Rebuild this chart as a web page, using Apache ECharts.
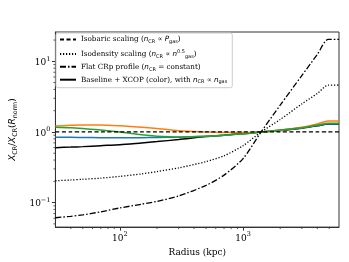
<!DOCTYPE html>
<html><head><meta charset="utf-8">
<script src="https://cdn.jsdelivr.net/npm/echarts@6/dist/echarts.min.js"></script>
<style>html,body{margin:0;padding:0;background:#fff}#c{width:349px;height:262px}</style>
</head><body><div id="c"></div>
<script>
// ---- data ----
var radius =      [30,   40,   50,   70,   100,  150,  200,  300,  500,  700,  1000, 1400, 2000, 3000, 4000, 4900, 6000];
var isobaric =    [1,    1,    1,    1,    1,    1,    1,    1,    1,    1,    1,    1,    1,    1,    1,    1,    1];
var isodensity =  [0.204,0.209,0.214,0.222,0.235,0.255,0.275,0.31, 0.38, 0.46, 0.64, 1.0,  1.5,  2.5,  3.5,  4.6,  4.6];
var flatCRp =     [0.061,0.064,0.067,0.074,0.084,0.095,0.104,0.124,0.175,0.245,0.42, 1.0,  2.4,  6.3,  12.5, 20.4, 20.4];
var baseline =    [0.60, 0.61, 0.62, 0.64, 0.66, 0.70, 0.73, 0.78, 0.86, 0.90, 0.95, 1.0,  1.05, 1.13, 1.22, 1.30, 1.30];
var xcopBlue =    [0.84, 0.84, 0.835,0.83, 0.83, 0.83, 0.835,0.845,0.87, 0.90, 0.94, 1.0,  1.06, 1.14, 1.23, 1.31, 1.31];
var xcopOrange =  [1.21, 1.24, 1.25, 1.25, 1.22, 1.17, 1.12, 1.04, 1.0,  0.98, 0.98, 1.0,  1.06, 1.17, 1.30, 1.43, 1.43];
var xcopGreen =   [1.17, 1.15, 1.12, 1.07, 1.0,  0.91, 0.87, 0.85, 0.87, 0.90, 0.94, 1.0,  1.07, 1.15, 1.25, 1.33, 1.33];
var xMinorTicks = [40,50,60,70,80,90,200,300,400,500,600,700,800,900,2000,3000,4000,5000];
var yMinorTicks = [0.05,0.06,0.07,0.08,0.09,0.2,0.3,0.4,0.5,0.6,0.7,0.8,0.9,2,3,4,5,6,7,8,9,20];
var xMin = 30, xMax = 6000, yMin = 0.045, yMax = 26;

var legendNames = ['iso', 'dens', 'flat', 'base'];
var legendText = {
  iso: 'Isobaric scaling ({i|n}{sub|CR}{t| ∝ }{i|P}{sub|gas}{t|)}',
  dens: 'Isodensity scaling ({i|n}{sub|CR}{t| ∝ }{i|n}{sup|0.5}{sub|gas}{t|)}',
  flat: 'Flat CRp profile ({i|n}{sub|CR}{t| = constant)}',
  base: 'Baseline + XCOP (color), with {i|n}{sub|CR}{t| ∝ }{i|n}{sub|gas}'
};

function zip(ys){ return radius.map(function(r,i){ return [r, ys[i]]; }); }

var SERIF = 'DejaVu Serif';
var chart = echarts.init(document.getElementById('c'), null, {renderer:'canvas'});

function lineSeries(name, ys, color, type, width, z){
  return {
    name: name, type: 'line', data: zip(ys), showSymbol: false, symbol: 'none',
    smooth: 0.25, z: z, animation: false,
    lineStyle: { color: color, width: width, type: type },
    itemStyle: { color: color }
  };
}

function pow10Label(v){
  var e = Math.round(Math.log10(v));
  if (Math.abs(Math.log10(v) - e) > 1e-6) return '';
  return '{b|10}{s|' + (e < 0 ? '−' + (-e) : e) + '}';
}

var labelRich = {
  b: { fontFamily: SERIF, fontSize: 9, color: '#000', lineHeight: 12, verticalAlign: 'bottom' },
  s: { fontFamily: SERIF, fontSize: 6.5, color: '#000', lineHeight: 12, verticalAlign: 'top' }
};

var subRich = {
  t: { fontFamily: SERIF, fontSize: 7.2, color: '#000', lineHeight: 10 },
  i: { fontFamily: 'DejaVu Sans', fontStyle: 'italic', fontSize: 7.2, color: '#000', lineHeight: 10 },
  sub: { fontFamily: 'DejaVu Sans', fontSize: 5, color: '#000', lineHeight: 7, verticalAlign: 'bottom' },
  sup: { fontFamily: 'DejaVu Sans', fontSize: 5, color: '#000', lineHeight: 7, verticalAlign: 'top' }
};

var option = {
  backgroundColor: '#fff',
  animation: false,
  grid: { left: 52, right: 10, top: 32, bottom: 33, show: true, borderColor: '#333', borderWidth: 1, containLabel: false },
  legend: {
    data: legendNames, left: 56, top: 33, orient: 'vertical',
    itemWidth: 16, itemHeight: 8, itemGap: 4.4, padding: [3, 5, 3, 3],
    backgroundColor: 'rgba(255,255,255,0.85)', borderColor: '#ccc', borderWidth: 1, borderRadius: 2,
    itemStyle: { color: 'rgba(0,0,0,0)', borderColor: 'rgba(0,0,0,0)', borderWidth: 0, opacity: 0 },
    textStyle: { fontFamily: SERIF, fontSize: 7.2, color: '#000', rich: subRich },
    formatter: function(n){ return legendText[n]; },
    selectedMode: false
  },
  xAxis: {
    type: 'log', logBase: 10, min: xMin, max: xMax,
    name: 'Radius (kpc)', nameLocation: 'middle', nameGap: 16,
    nameTextStyle: { fontFamily: SERIF, fontSize: 9, color: '#000' },
    axisLine: { show: true, onZero: false, lineStyle: { color: '#333', width: 1 } },
    axisTick: { show: true, inside: false, length: 3.5, lineStyle: { color: '#333' } },
    splitLine: { show: false },
    axisLabel: { margin: 4, formatter: pow10Label, rich: labelRich, showMinLabel: false, showMaxLabel: false }
  },
  yAxis: {
    type: 'log', logBase: 10, min: yMin, max: yMax,
    name: '{i|X}{sub|CR}{t|/}{i|X}{sub|CR}{t|(}{i|R}{sub|norm}{t|)}',
    nameLocation: 'middle', nameGap: 30, nameRotate: 90,
    nameTextStyle: { fontSize: 9, color: '#000', rich: {
      t: { fontFamily: 'DejaVu Sans', fontSize: 9, color: '#000', lineHeight: 12 },
      i: { fontFamily: 'DejaVu Sans', fontStyle: 'italic', fontSize: 9, color: '#000', lineHeight: 12 },
      sub: { fontFamily: 'DejaVu Sans', fontSize: 6.3, color: '#000', lineHeight: 8, verticalAlign: 'bottom' }
    } },
    axisLine: { show: true, onZero: false, lineStyle: { color: '#333', width: 1 } },
    axisTick: { show: true, inside: false, length: 3.5, lineStyle: { color: '#333' } },
    splitLine: { show: false },
    axisLabel: { margin: 5, formatter: pow10Label, rich: labelRich, showMinLabel: false, showMaxLabel: false }
  },
  series: [
    lineSeries('base', baseline, '#000', 'solid', 1.5, 2),
    lineSeries('blue', xcopBlue, '#1f77b4', 'solid', 1.5, 3),
    lineSeries('orange', xcopOrange, '#ff7f0e', 'solid', 1.5, 4),
    lineSeries('green', xcopGreen, '#2ca02c', 'solid', 1.5, 5),
    lineSeries('iso', isobaric, '#000', [4, 2.5], 1.3, 6),
    lineSeries('dens', isodensity, '#000', [1.2, 1.8], 1.3, 7),
    lineSeries('flat', flatCRp, '#000', [6, 2, 1.5, 2], 1.3, 8),
    {
      type: 'custom', name: 'xminor', silent: true, clip: false, z: 10,
      data: xMinorTicks.map(function(v){ return [v]; }),
      renderItem: function(params, api){
        var p = api.coord([api.value(0), yMin]);
        return { type: 'line', shape: { x1: p[0], y1: p[1], x2: p[0], y2: p[1] + 2 }, style: { stroke: '#333', lineWidth: 0.8 } };
      }
    },
    {
      type: 'custom', name: 'yminor', silent: true, clip: false, z: 10,
      data: yMinorTicks.map(function(v){ return [xMin, v]; }),
      renderItem: function(params, api){
        var p = api.coord([xMin, api.value(1)]);
        return { type: 'line', shape: { x1: p[0], y1: p[1], x2: p[0] - 2, y2: p[1] }, style: { stroke: '#333', lineWidth: 0.8 } };
      }
    }
  ]
};
chart.setOption(option);
</script></body></html>
